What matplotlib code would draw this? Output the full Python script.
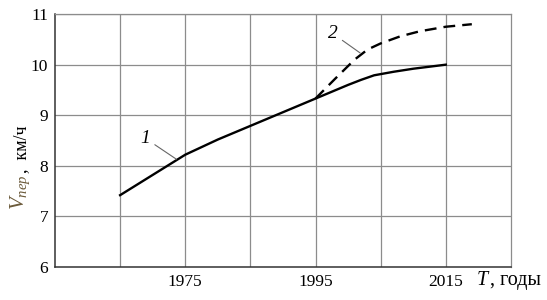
import matplotlib.pyplot as plt

plt.rcParams['font.family'] = ['Liberation Serif', 'DejaVu Serif']
plt.rcParams['mathtext.fontset'] = 'custom'
plt.rcParams['mathtext.rm'] = 'Liberation Serif'
plt.rcParams['mathtext.it'] = 'Liberation Serif:italic'

# curve 1 (solid) and curve 2 (dashed)
years_1 = [1965, 1970, 1975, 1980, 1985, 1990, 1995, 2000, 2002, 2004, 2007, 2010, 2015]
speed_1 = [7.42, 7.82, 8.22, 8.52, 8.79, 9.06, 9.33, 9.6, 9.7, 9.79, 9.86, 9.92, 10.0]
years_2 = [1995, 1998, 2001, 2003, 2005, 2008, 2011, 2015, 2019]
speed_2 = [9.33, 9.72, 10.1, 10.3, 10.42, 10.56, 10.66, 10.75, 10.8]

x_ticks = [1975, 1995, 2015]
x_grid = [1965, 1975, 1985, 1995, 2005, 2015]
y_ticks = [6, 7, 8, 9, 10, 11]

fig = plt.figure(figsize=(5.47, 3.0), dpi=100)
ax = fig.add_axes([0.1005, 0.11, 0.8335, 0.843])

ax.set_xlim(1955, 2025)
ax.set_ylim(6, 11)

for x in x_grid:
    ax.axvline(x, color='#8c8c8c', lw=0.9, zorder=1)
for y in y_ticks[1:]:
    ax.axhline(y, color='#8c8c8c', lw=0.9, zorder=1)

ax.plot(years_1, speed_1, color='black', lw=1.7, zorder=3)
ax.plot(years_2, speed_2, color='black', lw=1.7, ls=(0, (5, 3)), zorder=3)

ax.set_xticks(x_ticks)
ax.set_yticks(y_ticks)
ax.tick_params(length=0, labelsize=12.5, pad=5)

for s in ['top', 'right']:
    ax.spines[s].set_color('#8c8c8c')
    ax.spines[s].set_linewidth(0.9)
for s in ['left', 'bottom']:
    ax.spines[s].set_color('#333333')
    ax.spines[s].set_linewidth(1.1)

# curve labels with leader lines
ax.annotate('1', xy=(1974.0, 8.1), xytext=(1968.8, 8.55), fontsize=14, style='italic',
            arrowprops=dict(arrowstyle='-', color='#666666', lw=0.8), ha='center', va='center')
ax.annotate('2', xy=(2002.2, 10.2), xytext=(1997.6, 10.62), fontsize=14, style='italic',
            arrowprops=dict(arrowstyle='-', color='#666666', lw=0.8), ha='center', va='center')

# y label: V_пер in brownish tint, units in black, stacked along the rotated axis
fig.canvas.draw()
r = fig.canvas.get_renderer()
t1 = fig.text(0.037, 0.30, r'$V_{пер}$', rotation=90, color='#6b5a3a', fontsize=15,
              ha='center', va='bottom')
bb = t1.get_window_extent(r)
y_top = bb.y1 / fig.bbox.height
fig.text(0.040, y_top + 0.005, ',  км/ч', rotation=90, fontsize=13, ha='center', va='bottom')

fig.text(0.872, 0.065, 'T', style='italic', fontsize=14.5, ha='left', va='center')
fig.text(0.895, 0.065, ', годы', fontsize=14.5, ha='left', va='center')

fig.savefig('out.png', dpi=100)
